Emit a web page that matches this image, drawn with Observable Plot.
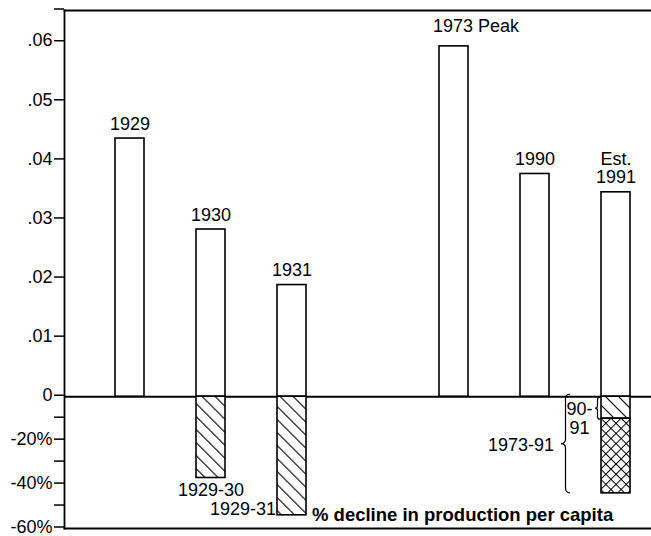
<!DOCTYPE html>
<html><head><meta charset="utf-8">
<script src="https://cdn.jsdelivr.net/npm/d3@7"></script>
<script src="https://cdn.jsdelivr.net/npm/@observablehq/plot@0.6"></script>
<style>
body{margin:0;background:#fff;}
#chart svg{display:block;}
</style></head><body><div id="chart"></div>
<script>
// ---- data ----
const slots = ["1929","1930","1931","gap","1973","1990","1991"];
const years = ["1929","1930","1931","1973","1990","1991"];
const yearLabels = ["1929","1930","1931","1973 Peak","1990","Est.\n1991"];
const production = [0.0437,0.0283,0.0189,0.0593,0.0377,0.0346];
const declineYears = ["1930","1931"];
const declinePeriods = ["1929-30","1929-31"];
const declinePct = [-37,-54];
const decline9091 = -10;
const decline7391 = -44;
const upperTicks = [0,0.01,0.02,0.03,0.04,0.05,0.06];
const lowerTicks = [-10,-20,-30,-40,-50,-60];
const lowerLabelled = [-20,-40,-60];
const captionText = "% decline in production per capita";

// two stacked vertical units: 0.01 of production vs. 1% of decline
const PX_PER_HUNDREDTH = 59.05, PX_PER_PCT = 2.195;
const up = v => v * 100;
const lo = p => p * PX_PER_PCT / PX_PER_HUNDREDTH;
const yTop = 6.537;

const bars = years.map((y, i) => ({year: y, label: yearLabels[i], value: production[i]}));
const declines = declineYears.map((y, i) => ({year: y, period: declinePeriods[i], pct: declinePct[i]}));

const ticks = [
  ...upperTicks.map(v => ({pos: up(v), label: v === 0 ? "0" : d3.format(".2f")(v).replace(/^0/, "")})),
  ...lowerTicks.map(p => ({pos: lo(p), label: lowerLabelled.includes(p) ? p + "%" : ""})),
  {pos: yTop, label: ""}
];
const labelOf = new Map(ticks.map(t => [t.pos, t.label]));

const FONT = "'Liberation Sans', Arial, Helvetica, sans-serif";

function bracePath(xr, y1, y2, w) {
  const xm = xr - w / 2, x0 = xr - w, ym = (y1 + y2) / 2, q = Math.min(w / 2, (y2 - y1) / 4);
  return `M${xr},${y1} Q${xm},${y1} ${xm},${y1 + q} L${xm},${ym - q} Q${xm},${ym} ${x0},${ym} ` +
         `Q${xm},${ym} ${xm},${ym + q} L${xm},${y2 - q} Q${xm},${y2} ${xr},${y2}`;
}

const braces = (index, scales) => {
  const g = d3.create("svg:g").attr("fill", "none").attr("stroke", "black").attr("stroke-width", 1.2);
  const xl = scales.x("1991");
  g.append("path").attr("d", bracePath(xl - 1, scales.y(0) + 1, scales.y(lo(decline9091)) + 1, 5));
  g.append("path").attr("d", bracePath(xl - 31, scales.y(0) - 2, scales.y(lo(decline7391)), 9));
  return g.node();
};

const isPeak = d => d.year === "1973";

const chart = Plot.plot({
  width: 651,
  height: 536,
  marginLeft: 64,
  marginRight: 0,
  marginTop: 10,
  marginBottom: 8,
  style: {fontFamily: FONT, fontSize: "18px", color: "black", background: "white"},
  x: {type: "band", domain: slots, range: [64, 651], paddingInner: 0.646, paddingOuter: 0.4024, align: 0.704, axis: null},
  y: {domain: [lo(-60), yTop], range: [528, 10], axis: null},
  marks: [
    Plot.frame({anchor: "top", stroke: "black", strokeWidth: 1.8}),
    Plot.frame({anchor: "left", stroke: "black", strokeWidth: 1.8}),
    Plot.frame({anchor: "bottom", stroke: "black", strokeWidth: 1.8}),
    Plot.ruleY([0], {stroke: "black", strokeWidth: 1.8}),
    Plot.axisY(ticks.map(t => t.pos), {
      anchor: "left", tickSize: 10, tickPadding: 2, strokeWidth: 1.5,
      tickFormat: d => labelOf.get(d), fontSize: 18, label: null, dy: -1.5
    }),
    Plot.barY(bars, {x: "year", y1: 0, y2: d => up(d.value), fill: "white", stroke: "black", strokeWidth: 1.6}),
    Plot.barY(declines, {x: "year", y1: 0, y2: d => lo(d.pct), fill: "url(#diag)", stroke: "black", strokeWidth: 1.6}),
    Plot.barY([{year: "1991", a: 0, b: decline9091}], {x: "year", y1: d => lo(d.a), y2: d => lo(d.b), fill: "url(#diag)", stroke: "black", strokeWidth: 1.6}),
    Plot.barY([{year: "1991", a: decline9091, b: decline7391}], {x: "year", y1: d => lo(d.a), y2: d => lo(d.b), fill: "url(#cross)", stroke: "black", strokeWidth: 1.6}),
    Plot.text(bars.filter(d => !isPeak(d)), {x: "year", y: d => up(d.value), text: "label", lineAnchor: "bottom", lineHeight: 1.02, dy: -9, fontSize: 18, fill: "black"}),
    Plot.text(bars.filter(isPeak), {x: "year", y: d => up(d.value), text: "label", textAnchor: "start", lineAnchor: "bottom", dx: -21, dy: -14, fontSize: 18, fill: "black"}),
    Plot.text(declines.filter(d => d.year === "1930"), {x: "year", y: d => lo(d.pct), text: "period", lineAnchor: "middle", dy: 12, fontSize: 18, fill: "black"}),
    Plot.text(declines.filter(d => d.year === "1931"), {x: "year", y: d => lo(d.pct), text: "period", textAnchor: "end", lineAnchor: "middle", dx: -16, dy: -6, fontSize: 18, fill: "black"}),
    Plot.text(declines.filter(d => d.year === "1931"), {x: "year", y: d => lo(d.pct), text: () => captionText, textAnchor: "start", lineAnchor: "middle", dx: 20, dy: 0, fontSize: 18.5, fontWeight: "bold", fill: "black"}),
    Plot.text([{year: "1991", v: 0, t: "90-\n91"}], {x: "year", y: d => lo(d.v), text: "t", lineAnchor: "top", dx: -36.5, dy: 5, fontSize: 18, lineHeight: 1.05, fill: "black"}),
    Plot.text([{year: "1991", v: decline7391 / 2, t: "1973-91"}], {x: "year", y: d => lo(d.v), text: "t", textAnchor: "end", lineAnchor: "middle", dx: -62, fontSize: 18, fill: "black"}),
    braces
  ]
});

const defs = d3.select(chart).insert("defs", ":first-child");
const diag = defs.append("pattern").attr("id", "diag").attr("patternUnits", "userSpaceOnUse")
  .attr("width", 9.2).attr("height", 9.2).attr("patternTransform", "rotate(-45)");
diag.append("rect").attr("width", 9.2).attr("height", 9.2).attr("fill", "white");
diag.append("line").attr("x1", 0).attr("y1", 0).attr("x2", 0).attr("y2", 9.2).attr("stroke", "black").attr("stroke-width", 2.2);
const cross = defs.append("pattern").attr("id", "cross").attr("patternUnits", "userSpaceOnUse")
  .attr("width", 7.2).attr("height", 7.2).attr("patternTransform", "rotate(45)");
cross.append("rect").attr("width", 7.2).attr("height", 7.2).attr("fill", "white");
cross.append("line").attr("x1", 0).attr("y1", 0).attr("x2", 0).attr("y2", 7.2).attr("stroke", "black").attr("stroke-width", 2);
cross.append("line").attr("x1", 0).attr("y1", 0).attr("x2", 7.2).attr("y2", 0).attr("stroke", "black").attr("stroke-width", 2);

document.getElementById("chart").appendChild(chart);
</script></body></html>
